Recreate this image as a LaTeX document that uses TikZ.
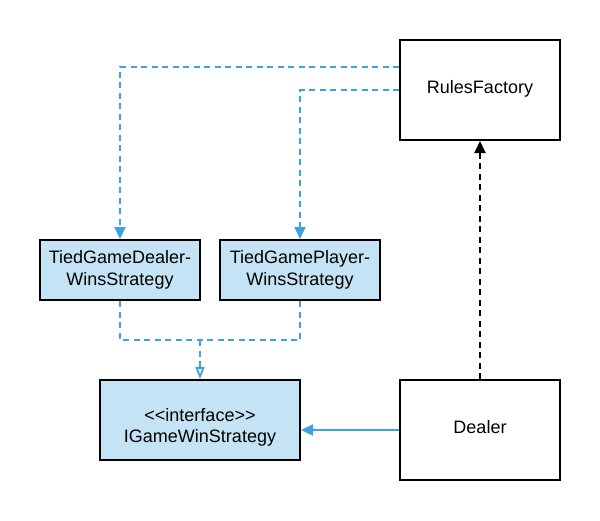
\documentclass[tikz,border=0pt]{standalone}
\usepackage{fontspec}
\setmainfont{Liberation Sans}
\usetikzlibrary{arrows.meta,calc}
\definecolor{lineblue}{HTML}{3BA4E0}
\definecolor{fillblue}{HTML}{C4E4F6}
\begin{document}
\begin{tikzpicture}[x=1pt,y=-1pt,
  box/.style={draw=black,line width=2pt,rectangle,inner sep=0pt,align=center,
    font=\fontsize{18}{22}\selectfont},
  bluebox/.style={box,fill=fillblue},
  conn/.style={line width=2pt,draw=lineblue},
  dashconn/.style={conn,dash pattern=on 6pt off 4.5pt},
  tipfill/.style={-{Triangle[length=12pt,width=11pt,fill=#1]}},
  tipopen/.style={-{Triangle[open,length=12pt,width=9pt,line width=1.8pt]}}]
\useasboundingbox (0,0) rectangle (600,520);
\node[box,minimum width=160pt,minimum height=100pt] (rf) at (480,90) {\raisebox{1.5pt}[\height][\depth]{RulesFactory}};
\node[bluebox,minimum width=160pt,minimum height=60pt] (tgd) at (120,270) {TiedGameDealer-\\WinsStrategy};
\node[bluebox,minimum width=160pt,minimum height=60pt] (tgp) at (300,270) {TiedGamePlayer-\\WinsStrategy};
\node[bluebox,minimum width=200pt,minimum height=80pt] (igws) at (200,420) {\raisebox{-8pt}[\height][\depth]{\begin{tabular}{@{}c@{}}\mbox{<}\mbox{<}interface\mbox{>}\mbox{>}\\[-1pt]IGameWinStrategy\end{tabular}}};
\node[box,minimum width=160pt,minimum height=100pt] (dealer) at (480,430) {\raisebox{2.5pt}[\height][\depth]{Dealer}};
\coordinate (merge) at (200,340);
\draw[dashconn,tipfill=lineblue] ([yshift=23pt]rf.west) -| (tgd.north);
\draw[dashconn,tipfill=lineblue] (rf.west) -| (tgp.north);
\draw[dashconn] (tgd.south) |- (merge);
\draw[dashconn] (tgp.south) |- (merge);
\draw[dashconn,tipopen] (merge) -- (igws.north);
\draw[line width=2pt,dash pattern=on 6pt off 4.5pt,tipfill=black] (dealer.north) -- (rf.south);
\draw[conn,tipfill=lineblue] (dealer.west) -- (dealer.west -| igws.east);
\end{tikzpicture}
\end{document}
